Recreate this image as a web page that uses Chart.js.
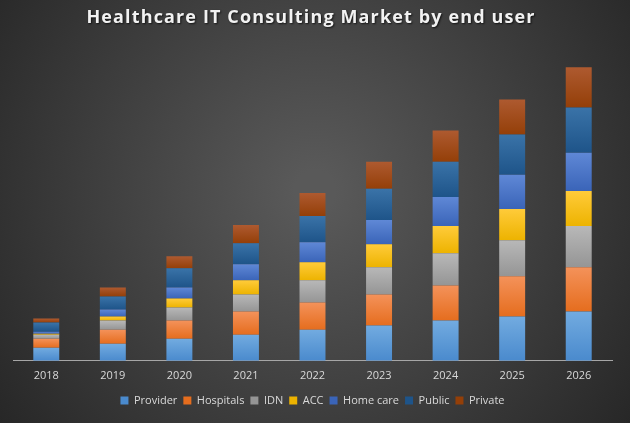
<!DOCTYPE html>
<html>
<head>
<meta charset="utf-8">
<script src="https://cdn.jsdelivr.net/npm/chart.js@4/dist/chart.umd.min.js"></script>
<style>
  html, body { margin: 0; padding: 0; }
  body { width: 630px; height: 423px; overflow: hidden; }
  #wrap { width: 630px; height: 423px; position: relative; }
</style>
</head>
<body>
<div id="wrap"><canvas id="myChart"></canvas></div>
<script>
const years = ["2018", "2019", "2020", "2021", "2022", "2023", "2024", "2025", "2026"];
const provider = [13, 17, 22, 26, 31, 35, 40, 44, 49];
const hospitals = [9, 14, 18, 23, 27, 31, 35, 40, 44];
const idn = [4, 9, 13, 17, 22, 27, 32, 36, 41];
const acc = [1, 4, 9, 14, 18, 23, 27, 31, 35];
const homeCare = [2, 7, 11, 16, 20, 24, 29, 34, 38];
const publicSeg = [9, 13, 19, 21, 26, 31, 35, 40, 45];
const privateSeg = [4, 9, 12, 18, 23, 27, 31, 35, 40];

const seriesNames = ["Provider", "Hospitals", "IDN", "ACC", "Home care", "Public", "Private"];
const seriesData = [provider, hospitals, idn, acc, homeCare, publicSeg, privateSeg];
// top (light) and bottom (dark) colour of each segment
const colorsTop = ["#72ABE0", "#F4925A", "#B8B8B8", "#FFCB3A", "#5F88D6", "#3A73A8", "#AE5A30"];
const colorsBottom = ["#4A8ACD", "#E56D1E", "#959595", "#EDB300", "#3A64B8", "#1E5489", "#943F08"];

// gradient for every segment, from its own top to its own base
function segmentGradient(ctx, di) {
	const chart = ctx.chart;
	const y = chart.scales.y;
	if (!y || ctx.type !== "data") return colorsBottom[di];
	const i = ctx.dataIndex;
	let base = 0;
	for (let k = 0; k < di; k++) base += seriesData[k][i];
	const top = base + seriesData[di][i];
	const y0 = y.getPixelForValue(top);
	const y1 = y.getPixelForValue(base);
	if (!isFinite(y0) || !isFinite(y1) || y0 === y1) return colorsBottom[di];
	const g = chart.ctx.createLinearGradient(0, y0, 0, y1);
	g.addColorStop(0, colorsTop[di]);
	g.addColorStop(1, colorsBottom[di]);
	return g;
}

const datasets = seriesNames.map((name, di) => ({
	label: name,
	data: seriesData[di],
	backgroundColor: (ctx) => segmentGradient(ctx, di),
	borderWidth: 0,
	categoryPercentage: 0.39,
	barPercentage: 1.0,
}));

// dark radial background + title with letter spacing
const backdrop = {
	id: "backdrop",
	beforeDraw(chart) {
		const { ctx, width, height } = chart;
		ctx.save();
		const g = ctx.createRadialGradient(width / 2, height * 0.45, 20, width / 2, height * 0.45, 400);
		g.addColorStop(0, "#595959");
		g.addColorStop(1, "#262626");
		ctx.fillStyle = g;
		ctx.fillRect(0, 0, width, height);

		const text = "Healthcare IT Consulting Market by end user";
		ctx.font = "bold 18px 'Open Sans'";
		const w = ctx.measureText(text).width;
		const spacing = Math.max(0, (448 - w) / (text.length - 1));
		ctx.letterSpacing = spacing + "px";
		ctx.textAlign = "center";
		ctx.textBaseline = "middle";
		ctx.shadowColor = "rgba(0,0,0,0.7)";
		ctx.shadowOffsetX = 1;
		ctx.shadowOffsetY = 1;
		ctx.shadowBlur = 2;
		ctx.fillStyle = "#f2f2f2";
		ctx.fillText(text, 311, 18);
		ctx.restore();
	},
};

new Chart(document.getElementById("myChart"), {
	type: "bar",
	data: { labels: years, datasets: datasets },
	plugins: [backdrop],
	options: {
		responsive: true,
		maintainAspectRatio: false,
		animation: false,
		layout: { padding: { top: 30, left: 13, right: 18, bottom: 7 } },
		scales: {
			x: {
				stacked: true,
				grid: { display: false },
				border: { display: true, color: "#a6a6a6", width: 1 },
				ticks: { color: "#d9d9d9", font: { family: "'Open Sans'", size: 11 }, padding: 0 },
				// extra room between the year labels and the legend
				afterFit(scale) {
					scale.height += 7;
				},
			},
			y: {
				stacked: true,
				display: false,
				min: 0,
				max: 329,
			},
		},
		plugins: {
			title: { display: false },
			tooltip: { enabled: false },
			legend: {
				display: true,
				position: "bottom",
				labels: {
					color: "#d9d9d9",
					boxWidth: 8,
					boxHeight: 8,
					padding: 6,
					font: { family: "'Open Sans'", size: 11 },
					generateLabels(chart) {
						return seriesNames.map((n, i) => ({
							text: n,
							fillStyle: colorsBottom[i],
							strokeStyle: colorsBottom[i],
							lineWidth: 0,
							fontColor: "#d9d9d9",
							datasetIndex: i,
							hidden: false,
						}));
					},
				},
			},
		},
	},
});
</script>
</body>
</html>
